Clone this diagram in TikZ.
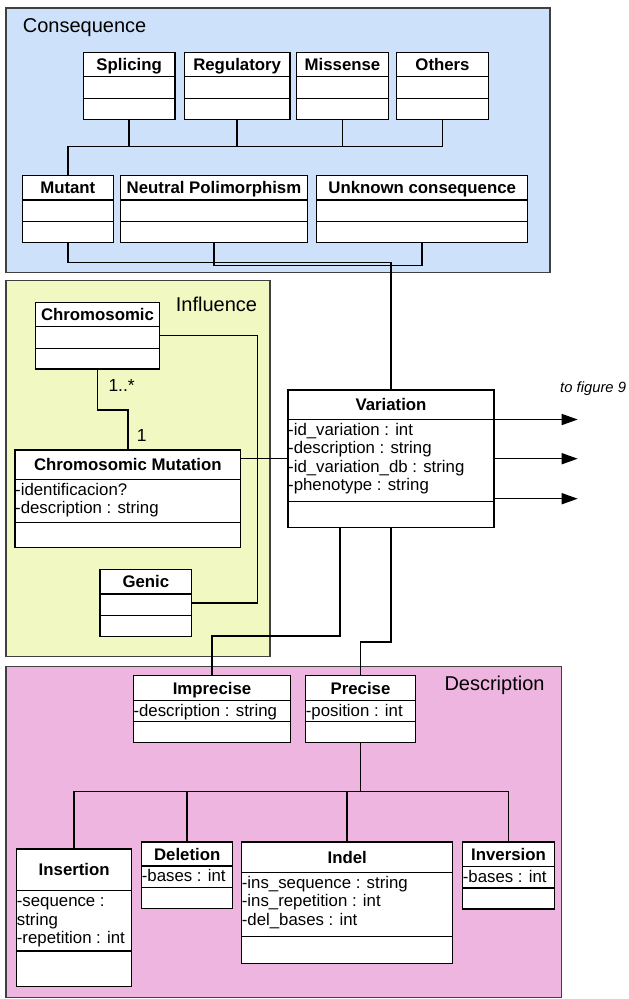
\documentclass[tikz,border=0pt]{standalone}
\usepackage{fontspec}
\setmainfont{Liberation Sans}
\usetikzlibrary{fit,arrows.meta}

\definecolor{consbg}{RGB}{206,225,250}
\definecolor{inflbg}{RGB}{241,248,193}
\definecolor{descbg}{RGB}{238,181,225}

\newcommand{\clsfont}{\fontsize{16.8}{18.6}\selectfont\bfseries}
\newcommand{\attrfont}{\fontsize{16.8}{18.6}\selectfont}
\newcommand{\pkgfont}{\fontsize{20}{24}\selectfont}
\newcommand{\multfont}{\fontsize{17.5}{20}\selectfont}
\newcommand{\notefont}{\fontsize{14.8}{18}\selectfont\itshape}

% UML class: name, x1, y1, x2, y2, header line y, attribute line y, title, attributes
\newcommand{\umlclass}[9]{%
  \node[classbox, fit={(#2,#3)(#4,#5)}] (#1) {};
  \draw[classline] (#2,#6) -- (#4,#6);
  \draw[classline] (#2,#7) -- (#4,#7);
  \node[classname] (#1-name) at ({(#2+#4)/2},{(#3+#6)/2+6}) {#8};
  \node[classattr] (#1-attr) at (#2,#6+3) {\rule{0pt}{12.5pt}#9};
}

\tikzset{
  pkg/.style={draw=black!75, line width=1.5pt, inner sep=0pt},
  classbox/.style={draw=black, fill=white, line width=1.4pt, inner sep=0pt},
  classline/.style={draw=black, line width=1.4pt},
  classname/.style={anchor=base, inner sep=0pt, font=\clsfont},
  classattr/.style={anchor=north west, inner sep=0pt, align=left, font=\attrfont},
  pkgtitle/.style={anchor=base west, inner sep=0pt, font=\pkgfont},
  link/.style={draw=black, line width=1.5pt},
  outlink/.style={link, -{Triangle[length=16pt,width=11pt]}},
  mult/.style={anchor=base west, inner sep=0pt, font=\multfont},
  note/.style={anchor=base west, inner sep=0pt, font=\notefont},
}

\begin{document}
\begin{tikzpicture}[x=1pt, y=-1pt]
\useasboundingbox (0,0) rectangle (629,999);

% packages
\node[pkg, fill=consbg, fit={(6,8)(550,272.5)}] (consequence) {};
\node[pkg, fill=inflbg, fit={(6,280.7)(270,656.7)}] (influence) {};
\node[pkg, fill=descbg, fit={(6,666.7)(561.3,997.5)}] (description) {};
\node[pkgtitle] (consequence-title) at (22.7,32.3) {Consequence};
\node[pkgtitle] (influence-title) at (175.7,311.7) {Influence};
\node[pkgtitle] (description-title) at (444.3,690) {Description};

% Consequence classes
\umlclass{splicing}{83.3}{52.3}{175}{119.3}{76.7}{98.3}{Splicing}{}
\umlclass{regulatory}{184.3}{52.3}{290}{119.3}{76.7}{98.3}{Regulatory}{}
\umlclass{missense}{296.7}{52.3}{388.3}{119.3}{76.7}{98.3}{Missense}{}
\umlclass{others}{396.7}{52.3}{488.3}{119.3}{76.7}{98.3}{Others}{}
\umlclass{mutant}{22.3}{175.7}{113.3}{242.7}{200}{221.7}{Mutant}{}
\umlclass{neutral}{120.7}{175.7}{307.3}{242.7}{200}{221.7}{Neutral Polimorphism}{}
\umlclass{unknown}{316.7}{175.7}{527.7}{242.7}{200}{221.7}{Unknown consequence}{}

% Variation
\umlclass{variation}{288}{390}{494}{527.3}{419.3}{501.7}{Variation}%
  {-id\_variation : int\\-description : string\\-id\_variation\_db : string\\-phenotype : string}

% Influence classes
\umlclass{chromo}{35.7}{302.3}{159.3}{369}{326.7}{348.3}{Chromosomic}{}
\umlclass{cm}{15}{450}{240.7}{547.7}{479.3}{522.3}{Chromosomic Mutation}%
  {-identificacion?\\-description : string}
\umlclass{genic}{100}{569.3}{191.7}{636.7}{594}{615.7}{Genic}{}

% Description classes
\umlclass{imprecise}{133.3}{675.7}{290.7}{742.3}{700.7}{721.3}{Imprecise}{-description : string}
\umlclass{precise}{305.7}{675.7}{415.3}{742.3}{700.7}{721.3}{Precise}{-position : int}
\umlclass{insertion}{16.7}{849}{131.7}{986.7}{890.7}{951}{Insertion}%
  {-sequence :\\string\\-repetition : int}
\umlclass{deletion}{141.7}{842}{232.7}{908.7}{866}{887.7}{Deletion}{-bases : int}
\umlclass{indel}{241.7}{842}{452.7}{963.3}{872.3}{936.7}{Indel}%
  {-ins\_sequence : string\\-ins\_repetition : int\\-del\_bases : int}
\umlclass{inversion}{462.7}{842}{554.3}{909}{866.5}{888}{Inversion}{-bases : int}

% routing rails
\coordinate (cbus) at (0,146.7);
\coordinate (mrail) at (0,262.3);
\coordinate (nrail) at (0,265.7);
\coordinate (chrail) at (0,410);
\coordinate (vbar) at (257.3,0);
\coordinate (vdrop) at (340,0);
\coordinate (irail) at (0,636);
\coordinate (prail) at (0,642);
\coordinate (dbus) at (0,791.7);

% Consequence hierarchy
\draw[link] (mutant.north) |- (others.south |- cbus) -- (others.south);
\draw[link] (splicing.south) -- (splicing.south |- cbus);
\draw[link] (regulatory.south) -- (regulatory.south |- cbus);
\draw[link] (missense.south) -- (missense.south |- cbus);
\draw[link] (mutant.south) |- (variation.north |- mrail) -- (variation.north);
\draw[link] (neutral.south) |- (unknown.south |- nrail) -- (unknown.south);

% Influence links
\draw[link] (chromo.south) |- (cm.north |- chrail) -- (cm.north);
\node[mult] (mult-many) at (108.3,391.7) {1..*};
\node[mult] (mult-one) at (136.7,441.7) {1};
\draw[link] (chromo.east) -- (chromo.east -| vbar) |- (genic.east);
\draw[link] (variation.west) -- (variation.west -| cm.east);

% Variation to Description
\draw[link] (variation.south -| vdrop) |- (imprecise.north |- irail) -- (imprecise.north);
\draw[link] (variation.south) |- (precise.north |- prail) -- (precise.north);

% Description hierarchy
\draw[link] (insertion.north) |- (inversion.north |- dbus) -- (inversion.north);
\draw[link] (precise.south) -- (precise.south |- dbus);
\draw[link] (deletion.north) -- (deletion.north |- dbus);
\draw[link] (indel.north) -- (indel.north |- dbus);

% outgoing references
\coordinate (out1) at (577.7,419.5);
\coordinate (out2) at (577.7,458.7);
\coordinate (out3) at (577.7,498.7);
\draw[outlink] (variation.east |- out1) -- (out1);
\draw[outlink] (variation.east |- out2) -- (out2);
\draw[outlink] (variation.east |- out3) -- (out3);
\node[note] (fig-note) at (560,392.7) {to figure 9};

\end{tikzpicture}
\end{document}
